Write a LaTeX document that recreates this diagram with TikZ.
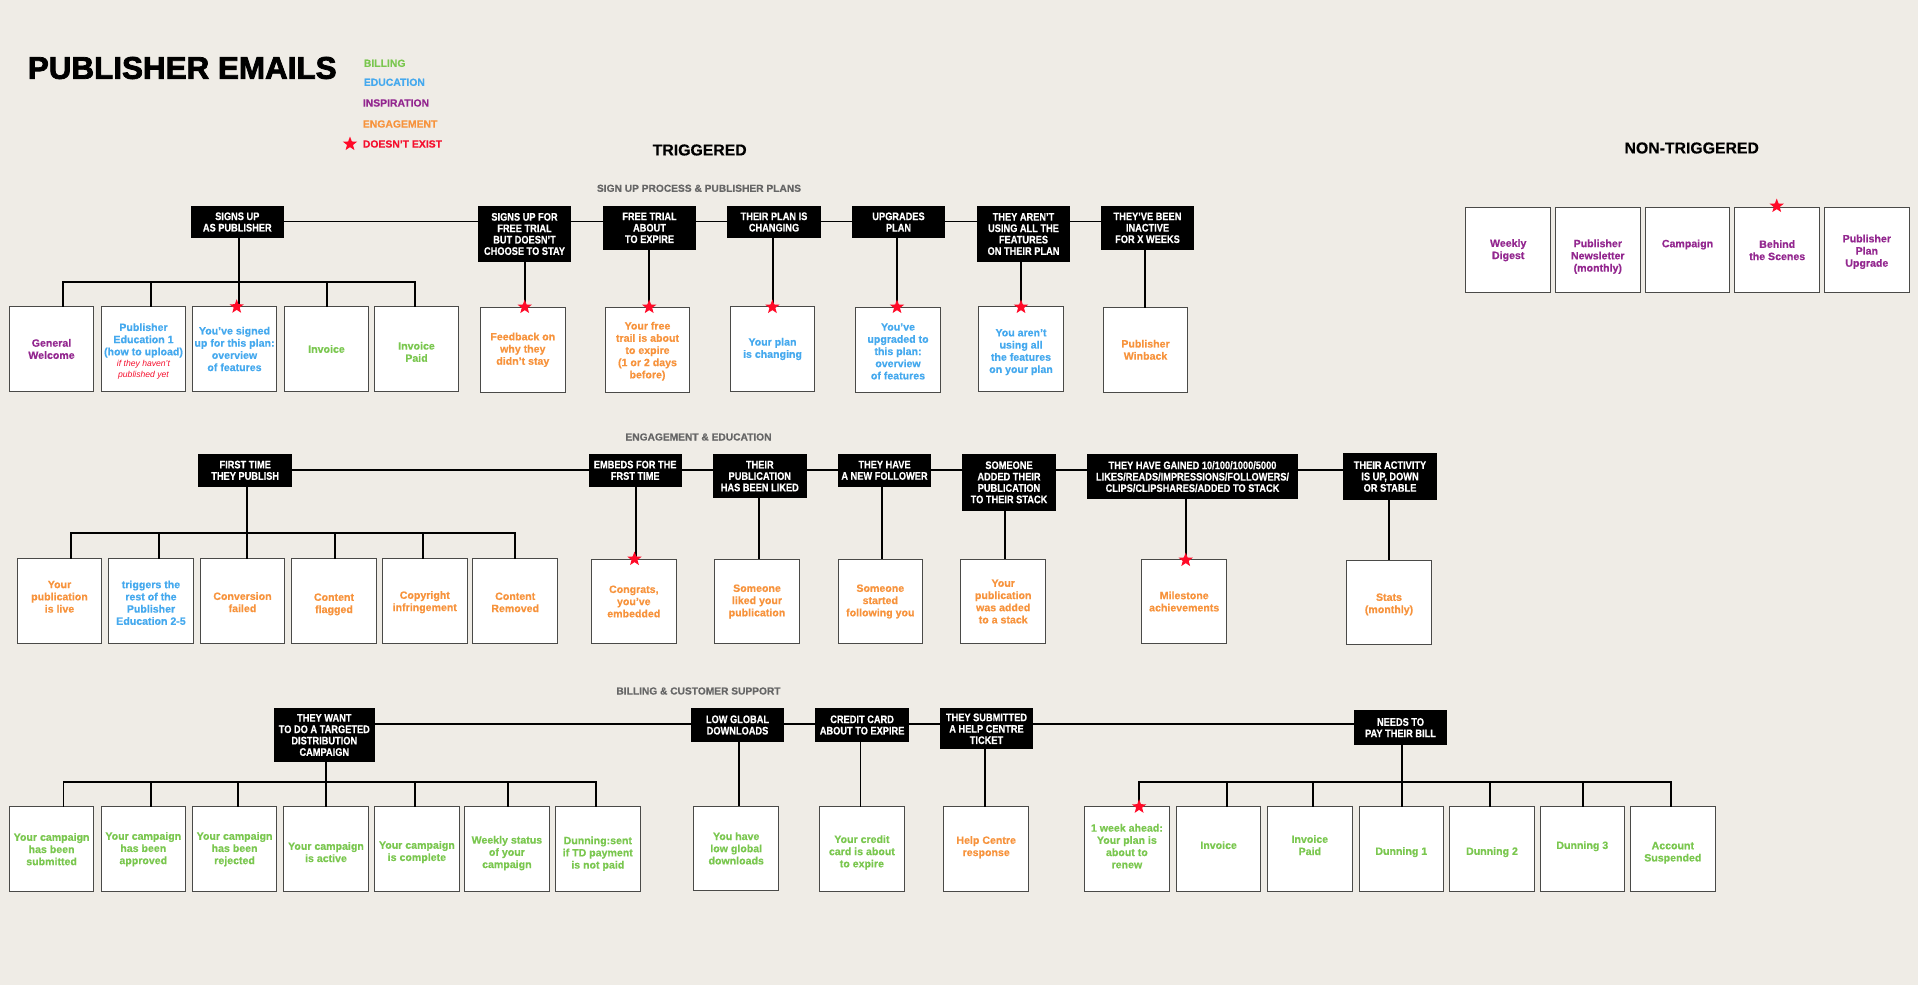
\documentclass[tikz,border=0pt]{standalone}
\usepackage{fontspec}
\setmainfont{Liberation Sans}[BoldFeatures={FakeBold=0.4}]
\newfontfamily\headfont{Liberation Sans}[FakeStretch=0.84,BoldFeatures={FakeBold=0.4}]
\newfontfamily\titlefont{Liberation Sans}[BoldFeatures={FakeBold=2.5}]
\usetikzlibrary{shapes.geometric}
\definecolor{bgcol}{HTML}{EFECE6}
\definecolor{billcol}{HTML}{7AC74F}
\definecolor{educol}{HTML}{45A9EE}
\definecolor{inspcol}{HTML}{93278F}
\definecolor{engcol}{HTML}{F7933C}
\definecolor{nocol}{HTML}{F5102E}
\definecolor{starcol}{HTML}{FF0A28}
\definecolor{sectcol}{HTML}{666666}
\definecolor{boxcol}{HTML}{4A4A48}
\newcommand{\lowerby}[1]{\mbox{}\\[#1pt]}

\begin{document}
\begin{tikzpicture}[x=1pt,y=-1pt,line width=1.7pt]
  \tikzstyle{head}=[fill=black,draw=none,text=white,anchor=north,align=center,inner sep=0pt,outer sep=0pt,
                    minimum width=93.4pt,font=\headfont\bfseries\fontsize{11}{11.4}\selectfont]
  \tikzstyle{two}=[minimum height=32.6pt]
  \tikzstyle{three}=[minimum height=44.3pt]
  \tikzstyle{four}=[minimum height=56.6pt]
  \tikzstyle{leaf}=[fill=white,draw=boxcol,line width=1pt,align=center,inner sep=0pt,outer sep=0pt,
                    minimum width=84.5pt,minimum height=84.5pt,
                    font=\bfseries\fontsize{10.6}{12.2}\selectfont]
  \tikzstyle{billing}=[text=billcol]
  \tikzstyle{education}=[text=educol]
  \tikzstyle{inspiration}=[text=inspcol]
  \tikzstyle{engagement}=[text=engcol]
  \tikzstyle{legend}=[anchor=west,inner sep=0pt,font=\bfseries\fontsize{10.4}{12}\selectfont]
  \tikzstyle{section}=[text=sectcol,inner sep=0pt,font=\bfseries\fontsize{10.2}{12}\selectfont]
  \tikzstyle{group}=[text=black,inner sep=0pt,font=\bfseries\fontsize{15.8}{18}\selectfont]
  \tikzstyle{nope}=[star,star points=5,star point ratio=2.4,fill=starcol,draw=none,inner sep=0pt,minimum size=15pt]

  \fill[bgcol] (0,0) rectangle (1918,985);
  \useasboundingbox (0,0) rectangle (1918,985);

  % title and legend
  \node[anchor=west,inner sep=0pt,font=\titlefont\bfseries\fontsize{31.4}{34}\selectfont] (title) at (27,68) {PUBLISHER EMAILS};
  \node[legend,billing]     (legbill) at (363,63.3) {BILLING};
  \node[legend,education]   (legedu)  at (363,82.3) {EDUCATION};
  \node[legend,inspiration] (leginsp) at (362,103) {INSPIRATION};
  \node[legend,engagement]  (legeng)  at (362,124) {ENGAGEMENT};
  \node[legend,text=nocol]  (legno)   at (362,144) {DOESN’T EXIST};
  \node[nope] (legstar) at (350,144) {};

  \node[group] (trig)    at (699.7,150) {TRIGGERED};
  \node[group] (nontrig) at (1691.7,148) {NON-TRIGGERED};
  \node[section] (sectA) at (699,188.3) {SIGN UP PROCESS \& PUBLISHER PLANS};
  \node[section] (sectB) at (698.5,437) {ENGAGEMENT \& EDUCATION};
  \node[section] (sectC) at (698.5,691) {BILLING \& CUSTOMER SUPPORT};

  % non-triggered
  \node[leaf,inspiration] (digest)     at (1508.2,250.2) {Weekly\\Digest};
  \node[leaf,inspiration] (newsletter) at (1597.8,250.2) {\lowerby{8.3}Publisher\\Newsletter\\(monthly)};
  \node[leaf,inspiration] (campaign)   at (1687.5,250.2) {Campaign\\[1.4pt]};
  \node[leaf,inspiration] (scenes)     at (1777.2,250.2) {Behind\\the Scenes};
  \node[leaf,inspiration] (upgrade)    at (1866.8,250.2) {\lowerby{-1.3}Publisher\\Plan\\Upgrade};
  \node[nope] (starscenes) at (1776.7,206) {};

  % first row
  \coordinate (lineA) at (0,221.5);
  \coordinate (busA) at (239,281.7);
  \node[head,two]   (signup)   at (237.3,205.7) {SIGNS UP\\AS PUBLISHER};
  \node[head,four]  (trial)    at (524.5,205.7) {SIGNS UP FOR\\FREE TRIAL\\BUT DOESN’T\\CHOOSE TO STAY};
  \node[head,three] (expire)   at (649.5,205.7) {FREE TRIAL\\ABOUT\\TO EXPIRE};
  \node[head,two]   (changing) at (774,205.7)   {THEIR PLAN IS\\CHANGING};
  \node[head,two]   (upgrades) at (898.5,205.7) {UPGRADES\\PLAN};
  \node[head,four]  (unused)   at (1023.5,205.7) {THEY AREN’T\\USING ALL THE\\FEATURES\\ON THEIR PLAN};
  \node[head,three] (inactive) at (1147.5,205.7) {THEY’VE BEEN\\INACTIVE\\FOR X WEEKS};

  \node[leaf,inspiration] (welcome)  at (51.5,349)  {General\\Welcome};
  \node[leaf,education]   (edu)      at (143.5,349) {\lowerby{0.3}Publisher\\Education 1\\(how to upload)\\[-1pt]{\color{nocol}\mdseries\itshape\fontsize{8.6}{10.4}\selectfont if they haven’t}\\[-1pt]{\color{nocol}\mdseries\itshape\fontsize{8.6}{10.4}\selectfont published yet}};
  \node[leaf,education]   (signedup) at (234.5,349) {You’ve signed\\up for this plan:\\overview\\of features};
  \node[leaf,billing]     (invoiceA) at (326.5,349) {Invoice};
  \node[leaf,billing]     (paidA)    at (416.5,349) {\lowerby{1.3}Invoice\\Paid};
  \node[leaf,engagement]  (feedback) at (522.8,349.8) {Feedback on\\why they\\didn’t stay};
  \node[leaf,engagement]  (freetrail) at (647.5,349.8) {\lowerby{-1.7}Your free\\trail is about\\to expire\\(1 or 2 days\\before)};
  \node[leaf,education]   (planchange) at (772.5,349) {Your plan\\is changing};
  \node[leaf,education]   (upgraded) at (898,349.8) {\lowerby{-1.7}You’ve\\upgraded to\\this plan:\\overview\\of features};
  \node[leaf,education]   (notusing) at (1021,349) {\lowerby{1.3}You aren’t\\using all\\the features\\on your plan};
  \node[leaf,engagement]  (winback)  at (1145.5,349.8) {Publisher\\Winback};

  \path (signup.east |- lineA) edge (trial.west |- lineA)
        (trial.east |- lineA) edge (expire.west |- lineA)
        (expire.east |- lineA) edge (changing.west |- lineA)
        (changing.east |- lineA) edge (upgrades.west |- lineA)
        (upgrades.east |- lineA) edge (unused.west |- lineA)
        (unused.east |- lineA) edge (inactive.west |- lineA);
  \draw (welcome.north -| 63.3,0) |- (busA -| 415,0) -- (paidA.north -| 415,0);
  \path[draw] (signup.south -| 239,0) -- (signedup.north -| 239,0)
        (busA -| 151,0) -- (edu.north -| 151,0)
        (busA -| 327,0) -- (invoiceA.north -| 327,0)
        (trial.south -| 524.7,0) -- (feedback.north -| 524.7,0)
        (expire.south -| 649,0) -- (freetrail.north -| 649,0)
        (changing.south -| 773,0) -- (planchange.north -| 773,0)
        (upgrades.south -| 897,0) -- (upgraded.north -| 897,0)
        (unused.south -| 1021,0) -- (notusing.north -| 1021,0)
        (inactive.south -| 1145,0) -- (winback.north -| 1145,0);
  \node[nope] (starA) at (236.7,306.7) {};
  \node[nope] (starB) at (524.7,307) {};
  \node[nope] (starC) at (649.2,307) {};
  \node[nope] (starD) at (772.4,307) {};
  \node[nope] (starE) at (897,307) {};
  \node[nope] (starF) at (1021,307) {};

  % second row
  \coordinate (lineB) at (0,469.7);
  \coordinate (busB) at (247,533.3);
  \node[head,two,minimum width=93.7pt] (firsttime) at (245.2,454) {FIRST TIME\\THEY PUBLISH};
  \node[head,two]   (embeds)   at (635.2,454) {EMBEDS FOR THE\\FRST TIME};
  \node[head,three] (likedhd)  at (759.8,454) {THEIR\\PUBLICATION\\HAS BEEN LIKED};
  \node[head,two]   (follower) at (884.5,454) {THEY HAVE\\A NEW FOLLOWER};
  \node[head,four]  (stack)    at (1009,454)  {SOMEONE\\ADDED THEIR\\PUBLICATION\\TO THEIR STACK};
  \node[head,minimum width=210.4pt,minimum height=45.3pt] (gained) at (1192.5,454) {THEY HAVE GAINED 10/100/1000/5000\\LIKES/READS/IMPRESSIONS/FOLLOWERS/\\CLIPS/CLIPSHARES/ADDED TO STACK};
  \node[head,minimum height=46.4pt] (activity) at (1390,453.3) {THEIR ACTIVITY\\IS UP, DOWN\\OR STABLE};

  \node[leaf,engagement] (live)     at (59.5,600.8) {Your\\publication\\is live\\[-4pt]};
  \node[leaf,education]  (triggers) at (151,600.8)  {\lowerby{-0.7}triggers the\\rest of the\\Publisher\\Education 2-5};
  \node[leaf,engagement] (failed)   at (242.5,600.8) {\lowerby{-1.7}Conversion\\failed};
  \node[leaf,engagement] (flagged)  at (334,600.8)  {\lowerby{2.3}Content\\flagged};
  \node[leaf,engagement] (copyright) at (424.8,600.8) {\lowerby{-1.7}Copyright\\infringement};
  \node[leaf,engagement] (removed)  at (515.2,600.8) {\lowerby{-1.7}Content\\Removed};
  \node[leaf,engagement] (congrats) at (633.8,601.5) {Congrats,\\you’ve\\embedded};
  \node[leaf,engagement] (liked)    at (757,601.5)  {Someone\\liked your\\publication};
  \node[leaf,engagement] (following) at (880.3,601.5) {Someone\\started\\following you};
  \node[leaf,engagement] (added)    at (1003.2,601.5) {Your\\publication\\was added\\to a stack};
  \node[leaf,engagement] (milestone) at (1184.2,601.5) {Milestone\\achievements};
  \node[leaf,engagement] (stats)    at (1389,602.3) {\lowerby{-0.7}Stats\\(monthly)};

  \path (firsttime.east |- lineB) edge (embeds.west |- lineB)
        (embeds.east |- lineB) edge (likedhd.west |- lineB)
        (likedhd.east |- lineB) edge (follower.west |- lineB)
        (follower.east |- lineB) edge (stack.west |- lineB)
        (stack.east |- lineB) edge (gained.west |- lineB)
        (gained.east |- lineB) edge (activity.west |- lineB);
  \draw (live.north -| 71.2,0) |- (busB -| 515,0) -- (removed.north -| 515,0);
  \path[draw] (firsttime.south -| 247,0) -- (failed.north -| 247,0)
        (busB -| 159.3,0) -- (triggers.north -| 159.3,0)
        (busB -| 334.7,0) -- (flagged.north -| 334.7,0)
        (busB -| 422.9,0) -- (copyright.north -| 422.9,0)
        (embeds.south -| 636,0) -- (congrats.north -| 636,0)
        (likedhd.south -| 759.1,0) -- (liked.north -| 759.1,0)
        (follower.south -| 881.8,0) -- (following.north -| 881.8,0)
        (stack.south -| 1005,0) -- (added.north -| 1005,0)
        (gained.south -| 1186.2,0) -- (milestone.north -| 1186.2,0)
        (activity.south -| 1388.8,0) -- (stats.north -| 1388.8,0);
  \node[nope] (starG) at (634.5,559) {};
  \node[nope] (starH) at (1185.7,560) {};

  % third row
  \coordinate (lineC) at (0,724.3);
  \coordinate (busC) at (326.2,781.7);
  \coordinate (busD) at (1402,781.7);
  \node[head,minimum width=100.6pt,minimum height=53.4pt] (targeted) at (324.3,708.3) {THEY WANT\\TO DO A TARGETED\\DISTRIBUTION\\CAMPAIGN};
  \node[head,minimum height=33.4pt] (low)    at (737.5,708.3) {LOW GLOBAL\\DOWNLOADS};
  \node[head,minimum height=33.4pt] (card)   at (862.1,708.3) {CREDIT CARD\\ABOUT TO EXPIRE};
  \node[head,minimum height=41pt]   (ticket) at (986.5,708.3) {THEY SUBMITTED\\A HELP CENTRE\\TICKET};
  \node[head,minimum height=35.3pt] (bill)   at (1400.5,710)  {NEEDS TO\\PAY THEIR BILL};

  \node[leaf,billing] (submitted) at (51.6,849.2)  {Your campaign\\has been\\submitted};
  \node[leaf,billing] (approved)  at (143.3,849.2) {Your campaign\\has been\\approved};
  \node[leaf,billing] (rejected)  at (234.6,849.2) {Your campaign\\has been\\rejected};
  \node[leaf,billing] (active)    at (326,849.2)   {\lowerby{1.3}Your campaign\\is active};
  \node[leaf,billing] (complete)  at (416.9,849.2) {\lowerby{1.3}Your campaign\\is complete};
  \node[leaf,billing] (weekly)    at (506.9,849.2) {\lowerby{3.3}Weekly status\\of your\\campaign};
  \node[leaf,billing] (dunningsent) at (597.8,849.2) {\lowerby{4.3}Dunning:sent\\if TD payment\\is not paid};
  \node[leaf,billing] (lowdl)     at (736.2,848.4) {You have\\low global\\downloads};
  \node[leaf,billing] (expiring)  at (861.9,849.2) {\lowerby{1.9}Your credit\\card is about\\to expire};
  \node[leaf,engagement] (helpcentre) at (986.2,849.2) {Help Centre\\response\\[-6pt]};
  \node[leaf,billing] (renew)     at (1126.9,849.2) {1 week ahead:\\Your plan is\\about to\\renew\\[-6pt]};
  \node[leaf,billing] (invoiceB)  at (1218.6,849.2) {Invoice\\[-4pt]};
  \node[leaf,billing] (paidB)     at (1309.8,849.2) {Invoice\\Paid\\[-4pt]};
  \node[leaf,billing] (dunningA)  at (1401.3,849.2) {\lowerby{1.3}Dunning 1};
  \node[leaf,billing] (dunningB)  at (1492,849.2)   {\lowerby{1.3}Dunning 2};
  \node[leaf,billing] (dunningC)  at (1582.3,849.2) {Dunning 3\\[-4pt]};
  \node[leaf,billing] (suspended) at (1672.8,849.2) {\lowerby{2.3}Account\\Suspended};

  \path (targeted.east |- lineC) edge (low.west |- lineC)
        (low.east |- lineC) edge (card.west |- lineC)
        (card.east |- lineC) edge (ticket.west |- lineC)
        (ticket.east |- lineC) edge (bill.west |- lineC);
  \draw (submitted.north -| 63.6,0) |- (busC -| 596,0) -- (dunningsent.north -| 596,0);
  \draw (renew.north -| 1139,0) |- (busD -| 1671,0) -- (suspended.north -| 1671,0);
  \path[draw] (targeted.south -| 326.2,0) -- (active.north -| 326.2,0)
        (busC -| 151,0) -- (approved.north -| 151,0)
        (busC -| 237.8,0) -- (rejected.north -| 237.8,0)
        (busC -| 415,0) -- (complete.north -| 415,0)
        (busC -| 508,0) -- (weekly.north -| 508,0)
        (low.south -| 739.2,0) -- (lowdl.north -| 739.2,0)
        (card.south -| 860.5,0) -- (expiring.north -| 860.5,0)
        (ticket.south -| 985.3,0) -- (helpcentre.north -| 985.3,0)
        (bill.south -| 1402,0) -- (dunningA.north -| 1402,0)
        (busD -| 1226.8,0) -- (invoiceB.north -| 1226.8,0)
        (busD -| 1313,0) -- (paidB.north -| 1313,0)
        (busD -| 1490,0) -- (dunningB.north -| 1490,0)
        (busD -| 1583,0) -- (dunningC.north -| 1583,0);
  \node[nope] (starI) at (1139.1,806.7) {};
\end{tikzpicture}
\end{document}
